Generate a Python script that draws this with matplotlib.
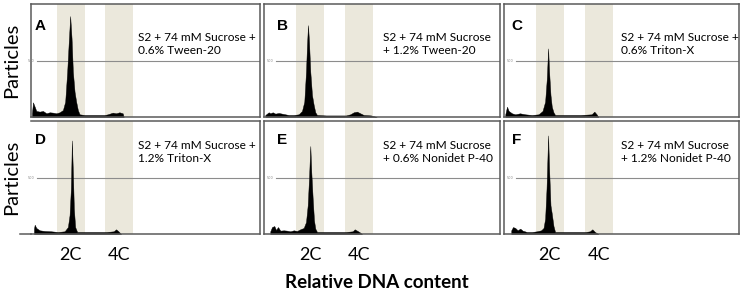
import matplotlib
matplotlib.use('Agg')
import matplotlib.pyplot as plt

# channel offset relative to start of the 2C gate, counts per channel
chan_a = [-24.7, -23.7, -22, -20.4, -17, -13.7, -10.3, -7, -3.7, -0.3, 3, 6.3, 8.6, 10.6, 12, 13.6,
          15, 16.3, 18, 19.6, 21.3, 23, 28, 38, 48, 51.3, 56.3, 59.6, 63, 66.3, 67.3]
counts_a = [33, 131, 92, 54, 48, 54, 33, 42, 39, 33, 42, 62, 137, 405, 643, 902,
            702, 405, 226, 137, 62, 24, 18, 18, 18, 24, 39, 33, 42, 33, 0]

chan_b = [-30.7, -29, -27.3, -25.7, -23.3, -20.7, -17.3, -14, -10.7, -7.3, -2.3, 2.7, 6, 8.3, 10, 11,
          12, 13, 14.3, 16, 17.7, 19.3, 21, 30, 40, 50, 54.3, 57.7, 61, 64.3, 67.7, 75, 80.7]
counts_b = [18, 30, 42, 33, 42, 30, 36, 30, 24, 18, 18, 24, 54, 137, 405, 643,
            821, 673, 405, 196, 107, 42, 18, 14, 14, 14, 24, 42, 48, 33, 18, 14, 0]

chan_c = [-30.7, -29, -27.3, -24, -20.7, -16, -10.7, -4, 2.7, 6.7, 9.3, 11, 12.3, 13.3, 14.7, 16,
          17.7, 19.3, 30, 45, 56, 58.7, 61, 62.7]
counts_c = [24, 92, 54, 33, 24, 33, 24, 18, 24, 54, 137, 345, 613, 405, 196, 92,
            42, 18, 18, 18, 24, 48, 24, 0]

chan_d = [-22.7, -22, -20.4, -17, -12, -5.4, 1.3, 8, 11.3, 13, 14.3, 15.3, 16.3, 17.3, 18.6, 20.6,
          35, 50, 57.3, 59.6, 62, 64.6]
counts_d = [48, 83, 54, 33, 27, 24, 18, 24, 62, 170, 405, 836, 554, 226, 62, 18,
            18, 18, 24, 42, 24, 0]

chan_e = [-25.7, -24, -21.7, -20, -18, -15.7, -12.3, -9, -5.7, -2.3, 1, 4.3, 7.7, 10, 11.7, 13,
          14.3, 15.3, 16.7, 18, 19.3, 21, 35, 50, 56.7, 58.7, 61, 63.3, 66]
counts_e = [24, 62, 71, 36, 62, 30, 33, 30, 24, 33, 27, 42, 54, 107, 256, 494,
            786, 554, 315, 122, 48, 18, 18, 18, 24, 42, 30, 18, 0]

chan_f = [-24.7, -23, -20.7, -18.3, -15.7, -13.3, -9, -4, 1, 5.3, 7.7, 9.3, 10.7, 11.7, 12.3, 13.3,
          14.7, 16, 17.7, 19.3, 35, 50, 54.3, 56.7, 59.3, 62.7]
counts_f = [33, 62, 54, 33, 48, 30, 18, 18, 24, 33, 54, 137, 405, 702, 881, 583,
            256, 181, 71, 18, 18, 18, 24, 42, 18, 0]

panel_letters = ['A', 'B', 'C', 'D', 'E', 'F']
conditions = ["S2 + 74 mM Sucrose +\n0.6% Tween-20",
              "S2 + 74 mM Sucrose\n+ 1.2% Tween-20",
              "S2 + 74 mM Sucrose +\n0.6% Triton-X",
              "S2 + 74 mM Sucrose +\n1.2% Triton-X",
              "S2 + 74 mM Sucrose\n+ 0.6% Nonidet P-40",
              "S2 + 74 mM Sucrose\n+ 1.2% Nonidet P-40"]
gate_2c = (0, 28)
gate_4c = (49, 77)
gate_labels = ['2C', '4C']
ref_level = 500

series = [(chan_a, counts_a), (chan_b, counts_b), (chan_c, counts_c),
          (chan_d, counts_d), (chan_e, counts_e), (chan_f, counts_f)]

W, H = 743, 294
fig = plt.figure(figsize=(W / 100, H / 100), dpi=100)

col_px = [(31, 260), (264, 500), (504, 739)]
row_px = [(4, 117), (121, 234)]
x_left = [-25.7, -32, -32]
x_right = 204
text_x = [0.467, 0.503, 0.498]
text_top = [0.755, 0.83]
letter_x = [0.017, 0.054, 0.033]
letter_top = [0.87, 0.895]

band_color = '#ebe8dc'
frame_color = '#5a5a5a'
body_font = ['Lato', 'DejaVu Sans']

for i, (x, y) in enumerate(series):
    r, c = divmod(i, 3)
    x0, x1 = col_px[c]
    y0, y1 = row_px[r]
    ax = fig.add_axes([x0 / W, 1 - y1 / H, (x1 - x0) / W, (y1 - y0) / H])
    ax.set_xlim(x_left[c], x_right)
    ax.set_ylim(0, 1010)

    ax.axvspan(*gate_2c, color=band_color, lw=0, zorder=0)
    ax.axvspan(*gate_4c, color=band_color, lw=0, zorder=0)
    ax.plot([-20, x_right], [ref_level, ref_level], color='#8c8c8c', lw=0.8, zorder=1)
    ax.text(-26, ref_level, str(ref_level), fontsize=2.5, color='#888888',
            ha='center', va='center', clip_on=False)

    ax.fill_between(x, y, 0, color='black', lw=0.3, edgecolor='black', zorder=2)

    ax.text(letter_x[c], letter_top[r], panel_letters[i], transform=ax.transAxes,
            fontsize=11, fontweight='bold', family='Liberation Sans', va='top', ha='left')
    ax.text(text_x[c], text_top[r], conditions[i], transform=ax.transAxes,
            fontsize=8.6, family=body_font, va='top', ha='left', linespacing=1.25)

    ax.set_yticks([])
    if r == 1:
        ax.set_xticks([sum(gate_2c) / 2, sum(gate_4c) / 2])
        ax.set_xticklabels(gate_labels, fontsize=13, family=body_font)
        ax.tick_params(axis='x', length=0, pad=9)
    else:
        ax.set_xticks([])
    for s in ax.spines.values():
        s.set_color(frame_color)
        s.set_linewidth(1.1)
    if i == 3:
        ax.spines['left'].set_visible(False)
        # baseline of D runs a little past the frame on the left
        ax.plot([-37, x_left[c]], [0, 0], color=frame_color, lw=1.1, clip_on=False)

# y label for each row
for r, (y0, y1) in enumerate(row_px):
    fig.text(12 / W, 1 - (y0 + y1) / 2 / H, 'Particles', rotation=90, fontsize=14.5,
             family=body_font, ha='center', va='center')

fig.text(377 / W, 1 - 283 / H, 'Relative DNA content', fontsize=13.5, fontweight='bold',
         family=body_font, ha='center', va='center')

fig.savefig('out.png', dpi=100)
